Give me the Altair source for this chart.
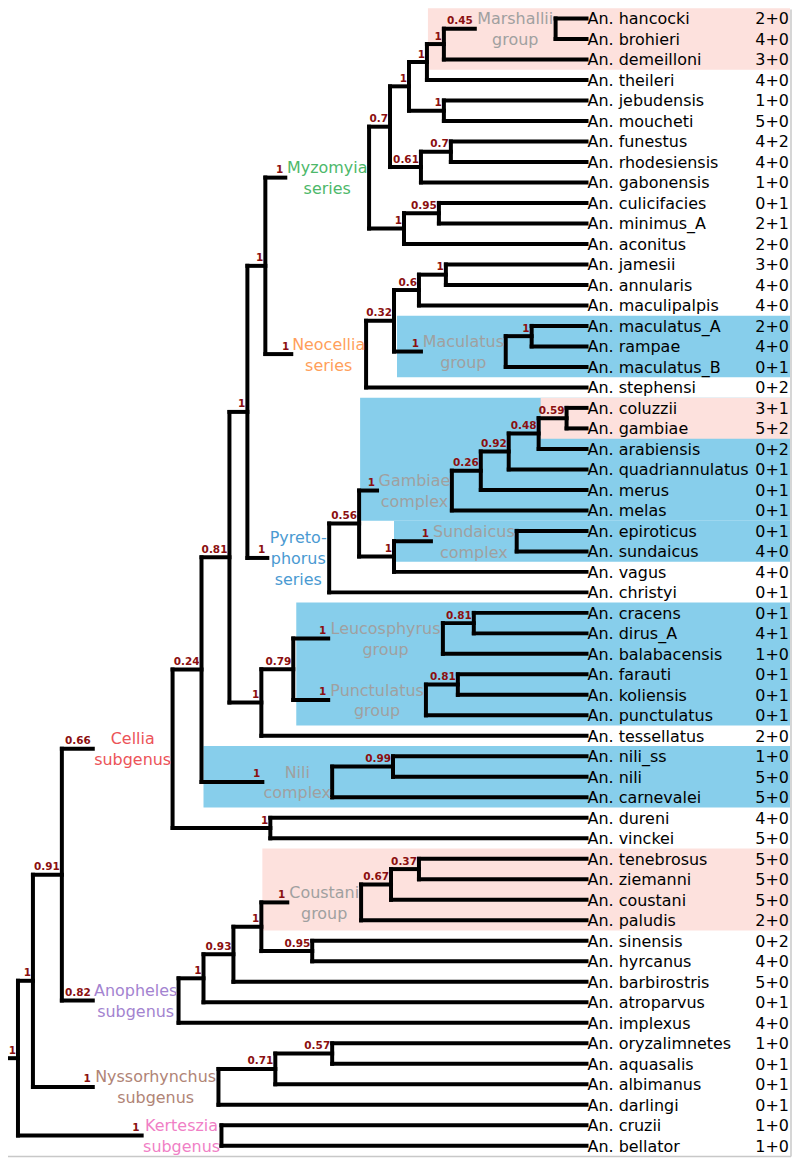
import altair as alt
import pandas as pd

# ---------------- data ----------------
leaf_names = ["hancocki", "brohieri", "demeilloni", "theileri", "jebudensis", "moucheti",
              "funestus", "rhodesiensis", "gabonensis", "culicifacies", "minimus_A", "aconitus",
              "jamesii", "annularis", "maculipalpis", "maculatus_A", "rampae", "maculatus_B",
              "stephensi", "coluzzii", "gambiae", "arabiensis", "quadriannulatus", "merus",
              "melas", "epiroticus", "sundaicus", "vagus", "christyi", "cracens", "dirus_A",
              "balabacensis", "farauti", "koliensis", "punctulatus", "tessellatus", "nili_ss",
              "nili", "carnevalei", "dureni", "vinckei", "tenebrosus", "ziemanni", "coustani",
              "paludis", "sinensis", "hyrcanus", "barbirostris", "atroparvus", "implexus",
              "oryzalimnetes", "aquasalis", "albimanus", "darlingi", "cruzii", "bellator"]

leaf_counts = ["2+0", "4+0", "3+0", "4+0", "1+0", "5+0", "4+2", "4+0", "1+0", "0+1", "2+1", "2+0",
               "3+0", "4+0", "4+0", "2+0", "4+0", "0+1", "0+2", "3+1", "5+2", "0+2", "0+1", "0+1",
               "0+1", "0+1", "4+0", "4+0", "0+1", "0+1", "4+1", "1+0", "0+1", "0+1", "0+1", "2+0",
               "1+0", "5+0", "5+0", "4+0", "5+0", "5+0", "5+0", "5+0", "2+0", "0+2", "4+0", "5+0",
               "0+1", "4+0", "1+0", "0+1", "0+1", "0+1", "1+0", "1+0"]

group_colors = {"myz": "#4DB86A", "neo": "#FF9F5B", "pyr": "#4A9AD2", "cel": "#EC5358",
                "ano": "#A383D0", "nys": "#B08476", "ker": "#F07FC6", "grp": "#A0A0A0"}


def N(s, x, *kids, v=None, label=None, color="grp"):
    return {"s": s, "x": x, "v": x if v is None else v, "kids": kids, "label": label, "color": color}


# support, branch end (depth), children ; v = depth of the vertical line when a text sits in between
tree = N(1, 18,
  N(1, 33,
    N(0.91, 62,
      N(0.66, 93,
        N(0.24, 202,
          N(0.81, 230,
            N(1, 248,
              N(1, 266,
                N(1, 286,
                  N(0.7, 391,
                    N(1, 410,
                      N(1, 428,
                        N(1, 445,
                          N(0.45, 476, "hancocki", "brohieri", v=557, label="Marshallii\ngroup"),
                          "demeilloni"),
                        "theileri"),
                      N(1, 445, "jebudensis", "moucheti")),
                    N(0.61, 422,
                      N(0.7, 452, "funestus", "rhodesiensis"),
                      "gabonensis")),
                  N(1, 405,
                    N(0.95, 440, "culicifacies", "minimus_A"),
                    "aconitus"),
                  v=370, label="Myzomyia\nseries", color="myz"),
                N(1, 292,
                  N(0.32, 395,
                    N(0.6, 420,
                      N(1, 447, "jamesii", "annularis"),
                      "maculipalpis"),
                    N(1, 422,
                      N(1, 533, "maculatus_A", "rampae"),
                      "maculatus_B", v=507, label="Maculatus\ngroup")),
                  "stephensi", v=367, label="Neocellia\nseries", color="neo")),
              N(1, 268,
                N(0.56, 360,
                  N(1, 378,
                    N(0.26, 482,
                      N(0.92, 510,
                        N(0.48, 540,
                          N(0.59, 568, "coluzzii", "gambiae"),
                          "arabiensis"),
                        "quadriannulatus"),
                      "merus"),
                    "melas", v=453, label="Gambiae\ncomplex"),
                  N(1, 395,
                    N(1, 432, "epiroticus", "sundaicus", v=518, label="Sundaicus\ncomplex"),
                    "vagus")),
                "christyi", v=330, label="Pyreto-\nphorus\nseries", color="pyr")),
            N(1, 262,
              N(0.79, 294,
                N(1, 329, N(0.81, 475, "cracens", "dirus_A"), "balabacensis",
                  v=444, label="Leucosphyrus\ngroup"),
                N(1, 329, N(0.81, 459, "farauti", "koliensis"), "punctulatus",
                  v=427, label="Punctulatus\ngroup")),
              "tessellatus")),
          N(1, 263, N(0.99, 394, "nili_ss", "nili"), "carnevalei", v=333, label="Nili\ncomplex")),
        N(1, 271, "dureni", "vinckei"),
        v=173, label="Cellia\nsubgenus", color="cel"),
      N(0.82, 93,
        N(1, 204,
          N(0.93, 234,
            N(1, 262,
              N(1, 288,
                N(0.67, 392,
                  N(0.37, 420, "tenebrosus", "ziemanni"),
                  "coustani"),
                "paludis", v=362, label="Coustani\ngroup"),
              N(0.95, 313, "sinensis", "hyrcanus")),
            "barbirostris"),
          "atroparvus"),
        "implexus", v=179, label="Anopheles\nsubgenus", color="ano")),
    N(1, 93,
      N(0.71, 276,
        N(0.57, 333, "oryzalimnetes", "aquasalis"),
        "albimanus"),
      "darlingi", v=219, label="Nyssorhynchus\nsubgenus", color="nys")),
  N(1, 142, "cruzii", "bellator", v=222, label="Kerteszia\nsubgenus", color="ker"))

root_start = 8
tip_depth = 588
count_depth = 791

# shaded clades: first leaf, last leaf, left depth, colour
shades = [("hancocki", "demeilloni", 429, "#FDE1DD"),
          ("maculatus_A", "maculatus_B", 398, "#87CEEB"),
          ("coluzzii", "melas", 361, "#87CEEB"),
          ("epiroticus", "sundaicus", 395, "#87CEEB"),
          ("coluzzii", "gambiae", 542, "#FDE1DD"),
          ("cracens", "punctulatus", 297, "#87CEEB"),
          ("nili_ss", "carnevalei", 204, "#87CEEB"),
          ("tenebrosus", "paludis", 263, "#FDE1DD")]
shade_right = 792

# ---------------- layout from the tree ----------------
idx = {n: i for i, n in enumerate(leaf_names)}
segs, sup, glab = [], [], []
LINE = 1.02  # line spacing of group labels, in rows


def layout(node, parent_v):
    if isinstance(node, str):
        y = idx[node]
        segs.append({"x": parent_v, "x2": tip_depth, "y": y, "y2": y})
        return y
    ys = [layout(c, node["v"]) for c in node["kids"]]
    y = (ys[0] + ys[-1]) / 2
    segs.append({"x": node["v"], "x2": node["v"], "y": ys[0], "y2": ys[-1]})
    segs.append({"x": parent_v, "x2": node["x"], "y": y, "y2": y})
    sup.append({"x": node["x"], "y": y, "t": f"{node['s']:g}"})
    if node["label"]:
        lines = node["label"].split("\n")
        n = len(lines)
        for i, ln in enumerate(lines):
            glab.append({"x": (node["x"] + node["v"]) / 2, "y": y + (i - (n - 1) / 2) * LINE,
                         "t": ln, "c": group_colors[node["color"]]})
    return y


layout(tree, root_start)

seg_df = pd.DataFrame(segs)
sup_df = pd.DataFrame(sup)
glab_df = pd.DataFrame(glab)
leaf_df = pd.DataFrame({"name": ["An. " + n for n in leaf_names], "count": leaf_counts,
                        "y": list(range(len(leaf_names)))})
leaf_df["x"] = tip_depth + 1
leaf_df["xc"] = count_depth
shade_df = pd.DataFrame([{"x": x0, "x2": shade_right, "y": idx[a] - 0.5, "y2": idx[b] + 0.5, "c": c}
                         for a, b, x0, c in shades])
border_df = pd.DataFrame([{"x": 8, "x2": 793, "y": 55.52, "y2": 55.52},
                          {"x": 793, "x2": 793, "y": -0.44, "y2": 55.52}])

X = alt.Scale(domain=[8, 794])
Y = alt.Scale(domain=[-0.438, 55.572], reverse=True)
FONT = "DejaVu Sans"

shade_layer = alt.Chart(shade_df).mark_rect().encode(
    x=alt.X("x:Q", scale=X, axis=None), x2="x2:Q",
    y=alt.Y("y:Q", scale=Y, axis=None), y2="y2:Q",
    color=alt.Color("c:N", scale=None))

line_layer = alt.Chart(seg_df).mark_rule(strokeWidth=4, strokeCap="square", color="black").encode(
    x=alt.X("x:Q", scale=X, axis=None), x2="x2:Q",
    y=alt.Y("y:Q", scale=Y, axis=None), y2="y2:Q")

sup_layer = alt.Chart(sup_df).mark_text(font=FONT, fontSize=10.5, fontWeight="bold", color="#8B1010",
                                        align="right", baseline="alphabetic", dx=-2, dy=-4.5).encode(
    x=alt.X("x:Q", scale=X, axis=None), y=alt.Y("y:Q", scale=Y, axis=None), text="t:N")

glab_layer = alt.Chart(glab_df).mark_text(font=FONT, fontSize=16, align="center",
                                          baseline="alphabetic", dy=6).encode(
    x=alt.X("x:Q", scale=X, axis=None), y=alt.Y("y:Q", scale=Y, axis=None), text="t:N",
    color=alt.Color("c:N", scale=None))

leaf_layer = alt.Chart(leaf_df).mark_text(font=FONT, fontSize=16, align="left", color="black",
                                          baseline="alphabetic", dy=6).encode(
    x=alt.X("x:Q", scale=X, axis=None), y=alt.Y("y:Q", scale=Y, axis=None), text="name:N")

count_layer = alt.Chart(leaf_df).mark_text(font=FONT, fontSize=16, align="right", color="black",
                                           baseline="alphabetic", dy=6).encode(
    x=alt.X("xc:Q", scale=X, axis=None), y=alt.Y("y:Q", scale=Y, axis=None), text="count:N")

border_layer = alt.Chart(border_df).mark_rule(strokeWidth=1.5, color="#C8C8C8").encode(
    x=alt.X("x:Q", scale=X, axis=None), x2="x2:Q",
    y=alt.Y("y:Q", scale=Y, axis=None), y2="y2:Q")

chart = alt.layer(shade_layer, line_layer, sup_layer, glab_layer, leaf_layer, count_layer,
                  border_layer).properties(
    width=786, height=1151, padding=0, autosize=alt.AutoSizeParams(type="none")
).configure_view(stroke=None)

chart.save("out.html", embed_options={"renderer": "svg", "actions": False})
